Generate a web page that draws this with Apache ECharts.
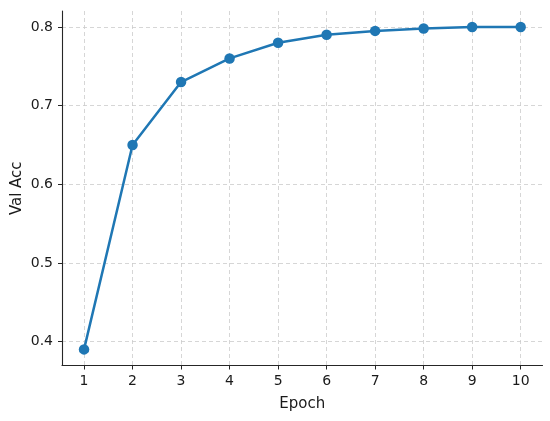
<!DOCTYPE html>
<html><head><meta charset="utf-8">
<script src="https://cdn.jsdelivr.net/npm/echarts@6/dist/echarts.min.js"></script>
<style>html,body{margin:0;padding:0;background:#fff}#c{width:550px;height:421px}</style>
</head><body><div id="c"></div>
<script>
var epochs = [1, 2, 3, 4, 5, 6, 7, 8, 9, 10];
var valAcc = [0.39, 0.65, 0.73, 0.76, 0.78, 0.79, 0.795, 0.798, 0.80, 0.80];
var xTicks = [1, 2, 3, 4, 5, 6, 7, 8, 9, 10];
var yTicks = [0.4, 0.5, 0.6, 0.7, 0.8];

var chart = echarts.init(document.getElementById('c'), null, {renderer: 'canvas'});
var font = 'DejaVu Sans';
var gridStyle = {show: true, lineStyle: {color: '#cccccc', type: [4, 3], width: 0.8}};
chart.setOption({
  animation: false,
  grid: {left: 62, right: 7.5, top: 11, bottom: 55.5, containLabel: false, outerBoundsMode: 'none'},
  xAxis: {
    type: 'value', min: 0.546, max: 10.45,
    name: 'Epoch', nameLocation: 'middle', nameGap: 31, nameMoveOverlap: false,
    nameTextStyle: {fontFamily: font, fontSize: 15, color: '#1a1a1a'},
    axisLine: {show: true, onZero: false, lineStyle: {color: '#262626', width: 1.1}},
    axisTick: {show: true, length: 4, lineStyle: {color: '#262626'}, customValues: xTicks},
    axisLabel: {fontFamily: font, fontSize: 14, color: '#1a1a1a', margin: 9, customValues: xTicks},
    splitLine: gridStyle
  },
  yAxis: {
    type: 'value', min: 0.3695, max: 0.8203,
    name: 'Val Acc', nameLocation: 'middle', nameGap: 37, nameMoveOverlap: false,
    nameTextStyle: {fontFamily: font, fontSize: 15, color: '#1a1a1a'},
    axisLine: {show: true, onZero: false, lineStyle: {color: '#262626', width: 1.1}},
    axisTick: {show: true, length: 4, lineStyle: {color: '#262626'}, customValues: yTicks},
    axisLabel: {fontFamily: font, fontSize: 14, color: '#1a1a1a', margin: 9, customValues: yTicks,
      formatter: function (v) { return v.toFixed(1); }},
    splitLine: gridStyle
  },
  series: [{
    type: 'line',
    data: epochs.map(function (e, i) { return [e, valAcc[i]]; }),
    symbol: 'circle', symbolSize: 10.5,
    lineStyle: {color: '#1f77b4', width: 2.5},
    itemStyle: {color: '#1f77b4'}
  }]
});
</script></body></html>
